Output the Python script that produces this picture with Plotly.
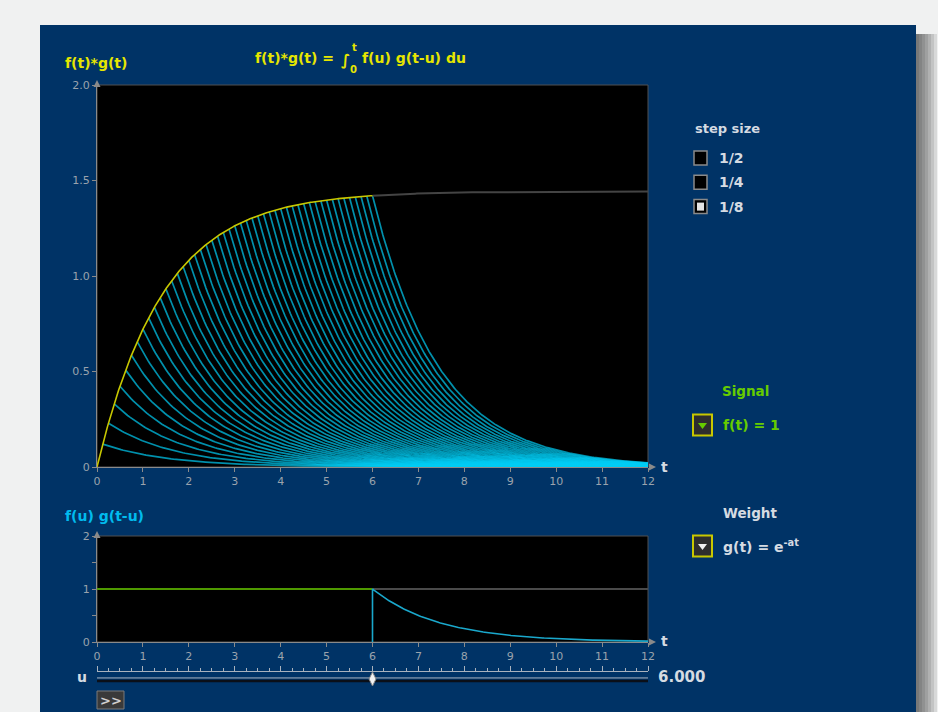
import numpy as np
import plotly.graph_objects as go

W, H = 938, 712

# ---- values ----
decay_rate = 0.693          # a in g(t) = e^(-a t); f*g levels off near 1.44
signal_level = 1.0          # f(t) = 1
step_size = 1 / 8           # selected step size
t_now = 6.0                 # slider position
t_end = 12.0
t_ticks = list(range(0, 13))
conv_ticks = [0, 0.5, 1.0, 1.5, 2.0]
conv_tick_text = ["0", "0.5", "1.0", "1.5", "2.0"]
prod_ticks = [0, 1, 2]
step_labels = ["1/2", "1/4", "1/8"]
step_checked = [False, False, True]
slider_text = "6.000"


def px(x):
    return x / W


def py(y):
    return 1 - y / H


def conv(t):
    return signal_level * (1 - np.exp(-decay_rate * t)) / decay_rate


FONT = "DejaVu Sans"
TICK_GRAY = "#9aa3ad"
LIGHT = "#d5dbe2"
AXIS_GRAY = "#8a8a8a"
YELLOW_TXT = "#e6e600"
GREEN_TXT = "#66cc00"
CYAN_TXT = "#00bbee"

fig = go.Figure()

# ---- top chart: partial convolutions ----
starts = np.arange(1, int(round(t_now / step_size)) + 1) * step_size
for tk in starts:
    t = np.linspace(tk, t_end, 240)
    y = conv(tk) * np.exp(-decay_rate * (t - tk))
    fig.add_trace(go.Scatter(x=t, y=y, mode="lines",
                             line=dict(color="rgba(0,205,245,0.7)", width=1.7),
                             xaxis="x", yaxis="y", hoverinfo="skip", showlegend=False))

t_rest = np.linspace(t_now, t_end, 200)
fig.add_trace(go.Scatter(x=t_rest, y=conv(t_rest), mode="lines",
                         line=dict(color="#444444", width=2),
                         xaxis="x", yaxis="y", hoverinfo="skip", showlegend=False))
t_done = np.linspace(0, t_now, 300)
fig.add_trace(go.Scatter(x=t_done, y=conv(t_done), mode="lines",
                         line=dict(color="#c8c800", width=1.6),
                         xaxis="x", yaxis="y", hoverinfo="skip", showlegend=False))

# ---- bottom chart: f(u) g(t-u) ----
fig.add_trace(go.Scatter(x=[t_now, t_end], y=[signal_level, signal_level], mode="lines",
                         line=dict(color="#4a4a4a", width=2),
                         xaxis="x2", yaxis="y2", hoverinfo="skip", showlegend=False))
fig.add_trace(go.Scatter(x=[0, t_now], y=[signal_level, signal_level], mode="lines",
                         line=dict(color="#4f9a00", width=2.2),
                         xaxis="x2", yaxis="y2", hoverinfo="skip", showlegend=False))
u = np.linspace(t_now, t_end, 200)
gu = np.exp(-decay_rate * (u - t_now))
fig.add_trace(go.Scatter(x=np.concatenate([[t_now], u]), y=np.concatenate([[0], gu]),
                         mode="lines", line=dict(color="#1aa8cc", width=1.6),
                         xaxis="x2", yaxis="y2", hoverinfo="skip", showlegend=False))

# ---- slider ----
fig.add_trace(go.Scatter(x=[0, t_end], y=[0.15, 0.15], mode="lines",
                         line=dict(color="#a9b2bd", width=1),
                         xaxis="x3", yaxis="y3", hoverinfo="skip", showlegend=False))
fig.add_trace(go.Scatter(x=[0, t_end], y=[-0.3, -0.3], mode="lines",
                         line=dict(color="#0a0f18", width=2.5),
                         xaxis="x3", yaxis="y3", hoverinfo="skip", showlegend=False))
fig.add_trace(go.Scatter(x=[t_now], y=[0.0], mode="markers",
                         marker=dict(symbol="diamond-tall", size=10, color="#f2f2f2",
                                     line=dict(color="#888", width=1)),
                         xaxis="x3", yaxis="y3", hoverinfo="skip", showlegend=False,
                         cliponaxis=False))

tickfont = dict(family=FONT, size=11, color=TICK_GRAY)
common_x = dict(domain=[px(97), px(648)], range=[0, t_end], tickmode="array",
                tickvals=t_ticks, ticks="outside", ticklen=4, tickcolor=AXIS_GRAY,
                showline=True, linecolor=AXIS_GRAY, linewidth=1, showgrid=False,
                zeroline=False, tickfont=tickfont, fixedrange=True, automargin=False)

fig.update_layout(
    template="none",
    width=W, height=H, autosize=False,
    margin=dict(l=0, r=0, t=0, b=0, pad=0, autoexpand=False),
    paper_bgcolor="#f0f1f1", plot_bgcolor="rgba(0,0,0,0)",
    showlegend=False,
    xaxis=dict(common_x, anchor="y"),
    yaxis=dict(domain=[py(467), py(85)], range=[0, 2], anchor="x", tickmode="array",
               tickvals=conv_ticks, ticktext=conv_tick_text, ticks="outside", ticklen=4,
               tickcolor=AXIS_GRAY, showline=True, linecolor=AXIS_GRAY, showgrid=False,
               zeroline=False, tickfont=tickfont, fixedrange=True, automargin=False),
    xaxis2=dict(common_x, anchor="y2"),
    yaxis2=dict(domain=[py(642), py(536)], range=[0, 2], anchor="x2", tickmode="array",
                tickvals=prod_ticks, ticks="outside", ticklen=4, tickcolor=AXIS_GRAY,
                minor=dict(tickmode="linear", tick0=0, dtick=0.5, ticks="outside",
                           ticklen=4, tickcolor=AXIS_GRAY),
                showline=True, linecolor=AXIS_GRAY, showgrid=False, zeroline=False,
                tickfont=tickfont, fixedrange=True, automargin=False),
    xaxis3=dict(domain=[px(97), px(648)], range=[0, t_end], anchor="y3", side="top",
                tickmode="array", tickvals=t_ticks, ticks="outside", ticklen=5,
                tickcolor="#a9b2bd",
                minor=dict(tickmode="linear", tick0=0, dtick=0.25, ticks="outside",
                           ticklen=3, tickcolor="#a9b2bd"),
                showticklabels=False, showline=True, linecolor="#a9b2bd",
                showgrid=False, zeroline=False, fixedrange=True, automargin=False),
    yaxis3=dict(domain=[py(686), py(672)], range=[-1, 1], anchor="x3", visible=False,
                fixedrange=True, automargin=False),
)

shapes = []
# shadow at right of panel
for w in [3, 6, 9, 12, 15, 18, 21]:
    shapes.append(dict(type="rect", xref="paper", yref="paper", layer="below",
                       x0=px(916), x1=px(916 + w), y0=0, y1=py(34),
                       fillcolor="rgba(30,30,30,0.11)", line=dict(width=0)))
# navy panel
shapes.append(dict(type="rect", xref="paper", yref="paper", layer="below",
                   x0=px(40), x1=px(916), y0=0, y1=py(25),
                   fillcolor="#003366", line=dict(width=0)))
# black plot areas
for xr, yr in [("x", "y"), ("x2", "y2")]:
    shapes.append(dict(type="rect", xref=xr + " domain", yref=yr + " domain", layer="below",
                       x0=0, x1=1, y0=0, y1=1, fillcolor="#000000",
                       line=dict(color="#505050", width=1)))


def tri_up(cx, tip, h=7, hw=3.5, color=AXIS_GRAY):
    return dict(type="path", xref="paper", yref="paper",
                path=f"M {px(cx - hw)},{py(tip + h)} L {px(cx)},{py(tip)} L {px(cx + hw)},{py(tip + h)} Z",
                fillcolor=color, line=dict(width=0))


def tri_right(tip, cy, h=7, hw=3.5, color=AXIS_GRAY):
    return dict(type="path", xref="paper", yref="paper",
                path=f"M {px(tip - h)},{py(cy - hw)} L {px(tip)},{py(cy)} L {px(tip - h)},{py(cy + hw)} Z",
                fillcolor=color, line=dict(width=0))


def tri_down(cx, cy, hw=4.5, h=6, color="#fff"):
    return dict(type="path", xref="paper", yref="paper",
                path=f"M {px(cx - hw)},{py(cy - h / 2)} L {px(cx + hw)},{py(cy - h / 2)} L {px(cx)},{py(cy + h / 2)} Z",
                fillcolor=color, line=dict(width=0))


shapes += [tri_up(97, 80), tri_right(656, 467), tri_up(97, 531), tri_right(656, 642)]

# step-size checkboxes
for i, checked in enumerate(step_checked):
    cy = 158 + 24.3 * i
    shapes.append(dict(type="rect", xref="paper", yref="paper",
                       x0=px(694), x1=px(707), y0=py(cy + 7), y1=py(cy - 7),
                       fillcolor="#000000", line=dict(color="#8a8a8a", width=1.5)))
    if checked:
        shapes.append(dict(type="rect", xref="paper", yref="paper",
                           x0=px(697), x1=px(704), y0=py(cy + 4), y1=py(cy - 4),
                           fillcolor="#e4e4e4", line=dict(width=0)))

# dropdown boxes
for cy, col in [(425, GREEN_TXT), (546, "#f0f0f0")]:
    shapes.append(dict(type="rect", xref="paper", yref="paper",
                       x0=px(693), x1=px(712), y0=py(cy + 10.5), y1=py(cy - 10.5),
                       fillcolor="#2e2e2e", line=dict(color="#c8c800", width=2)))
    shapes.append(tri_down(702.5, cy + 1, color=col))

# ">>" button
shapes.append(dict(type="rect", xref="paper", yref="paper",
                   x0=px(97), x1=px(124), y0=py(709), y1=py(691),
                   fillcolor="#3a3a3a", line=dict(color="#7a7a7a", width=1)))

fig.update_layout(shapes=shapes)


def note(text, x, y, size=13, color=LIGHT, anchor="left", bold=True):
    return dict(text=f"<b>{text}</b>" if bold else text, x=px(x), y=py(y),
                xref="paper", yref="paper", xanchor=anchor, yanchor="middle",
                showarrow=False, font=dict(family=FONT, size=size, color=color))


ann = [
    note("f(t)*g(t)", 63, 63, 14, YELLOW_TXT),
    note("f(t)*g(t) =", 253, 58, 14, YELLOW_TXT),
    note("∫", 345, 60, 15, YELLOW_TXT, anchor="center"),
    note("t", 354, 47, 10, YELLOW_TXT, anchor="center"),
    note("0", 353, 69, 10, YELLOW_TXT, anchor="center"),
    note("f(u) g(t-u) du", 360, 58, 14, YELLOW_TXT),
    note("t", 659, 467, 14, LIGHT),
    note("t", 659, 641, 14, LIGHT),
    note("f(u) g(t-u)", 63, 516, 14, CYAN_TXT),
    note("u", 82, 677, 14, LIGHT, anchor="center"),
    note(slider_text, 656, 677, 15, LIGHT),
    note("&gt;&gt;", 110.5, 700, 13, "#d0d0d0", anchor="center"),
    note("step size", 693, 128, 13, LIGHT),
    note("Signal", 720, 391, 13.5, GREEN_TXT),
    note("f(t) = 1", 721, 425, 14, GREEN_TXT),
    note("Weight", 721, 513, 13.5, LIGHT),
    note("g(t) = e<sup>-at</sup>", 721, 546, 14, LIGHT),
]
for i, lab in enumerate(step_labels):
    ann.append(note(lab, 717, 158 + 24.3 * i, 14, LIGHT))

fig.update_layout(annotations=ann)

fig.write_html(
    "out.html",
    config={"displayModeBar": False},
    post_script=(
        "document.documentElement.style.margin='0';"
        "document.body.style.margin='0';"
        "document.body.style.overflow='hidden';"
    ),
)
